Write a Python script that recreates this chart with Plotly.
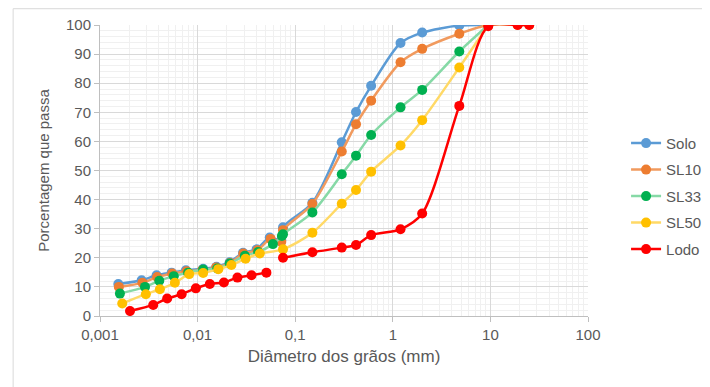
import plotly.graph_objects as go

sieves = [0.075, 0.15, 0.3, 0.42, 0.6, 1.2, 2.0, 4.8, 9.5]

solo_x = [0.00154, 0.00267, 0.0038, 0.00542, 0.00759, 0.0114, 0.0156, 0.0213, 0.0292, 0.0402, 0.0548, 0.072] + sieves
solo_y = [11.0, 12.3, 14.0, 14.9, 15.7, 16.2, 16.9, 18.5, 21.7, 22.9, 27.0, 26.0,
          30.5, 38.9, 59.7, 70.1, 79.1, 93.8, 97.4, 99.8, 100]

sl10_x = [0.00156, 0.00272, 0.00385, 0.0055, 0.0077, 0.0111, 0.0155, 0.0215, 0.0294, 0.041, 0.056, 0.072] + sieves + [19, 25]
sl10_y = [10.0, 11.4, 13.4, 14.6, 15.4, 15.7, 16.7, 18.2, 21.5, 22.6, 26.5, 25.5,
          29.5, 38.5, 56.5, 65.9, 74.0, 87.2, 91.8, 97.0, 100, 100, 100]

sl33_x = [0.0016, 0.00289, 0.00405, 0.0057, 0.008, 0.0114, 0.0159, 0.0213, 0.0305, 0.0417, 0.0591, 0.073] + sieves
sl33_y = [7.7, 10.0, 12.1, 13.7, 14.9, 16.0, 16.3, 18.0, 20.7, 22.0, 24.7, 27.5,
          28.1, 35.6, 48.7, 55.1, 62.2, 71.7, 77.7, 90.9, 100]

sl50_x = [0.00169, 0.00295, 0.00411, 0.00585, 0.0082, 0.0114, 0.0163, 0.0222, 0.031, 0.0434] + sieves
sl50_y = [4.3, 7.5, 9.2, 11.4, 14.4, 14.8, 16.1, 17.5, 19.7, 21.5,
          22.9, 28.6, 38.6, 43.3, 49.6, 58.6, 67.3, 85.4, 100]

lodo_x = [0.00203, 0.00351, 0.00488, 0.00686, 0.0096, 0.01334, 0.0186, 0.0256, 0.0357, 0.0507, None] + sieves + [19, 25]
lodo_y = [1.7, 3.8, 6.0, 7.5, 9.5, 11.0, 11.5, 13.2, 14.0, 14.9, None,
          20.0, 21.9, 23.5, 24.4, 27.8, 29.8, 35.2, 72.2, 99.6, 100, 100]

x_tickvals = [0.001, 0.01, 0.1, 1, 10, 100]
x_ticktext = ["0,001", "0,01", "0,1", "1", "10", "100"]

series = [
    ("Solo", solo_x, solo_y, "#5B9BD5", "#5B9BD5"),
    ("SL10", sl10_x, sl10_y, "#F19A5E", "#ED7D31"),
    ("SL33", sl33_x, sl33_y, "#86D9A6", "#00B050"),
    ("SL50", sl50_x, sl50_y, "#FFD966", "#FFC000"),
    ("Lodo", lodo_x, lodo_y, "#FF0000", "#FF0000"),
]

fig = go.Figure()
for name, xs, ys, lc, mc in series:
    fig.add_trace(go.Scatter(
        x=xs, y=ys, name=name, mode="lines+markers", legendgroup=name,
        line=dict(color=lc, width=2.5, shape="spline", smoothing=0.8),
        marker=dict(color=mc, size=10),
        connectgaps=False,
    ))

minor_x = [m * 10 ** e for e in range(-3, 2) for m in range(2, 10)]
minor_y = [v for v in range(0, 101, 2) if v % 10 != 0]

fig.update_layout(
    width=710, height=387,
    margin=dict(l=92, r=130, t=17, b=79, autoexpand=False),
    paper_bgcolor="white", plot_bgcolor="white",
    font=dict(family="Liberation Sans, Arial, sans-serif", size=15, color="#595959"),
    showlegend=True,
    legend=dict(x=1.078, y=0.65, xanchor="left", yanchor="top",
                font=dict(size=15, color="#595959"), tracegroupgap=4,
                itemwidth=30, bgcolor="rgba(0,0,0,0)"),
    xaxis=dict(
        type="log", range=[-3, 2], automargin=False,
        tickvals=x_tickvals, ticktext=x_ticktext,
        showgrid=True, gridcolor="#D9D9D9", gridwidth=1,
        minor=dict(tickvals=minor_x, showgrid=True, gridcolor="#F0F0F0", ticks=""),
        showline=True, linecolor="#BFBFBF", linewidth=1,
        ticks="outside", ticklen=5, tickcolor="#BFBFBF",
        zeroline=False,
        title=dict(text="Diâmetro dos grãos (mm)", font=dict(size=17, color="#595959"), standoff=8),
    ),
    yaxis=dict(
        range=[0, 100], dtick=10, automargin=False,
        showgrid=True, gridcolor="#D9D9D9", gridwidth=1,
        minor=dict(tickvals=minor_y, showgrid=True, gridcolor="#F0F0F0", ticks=""),
        showline=True, linecolor="#BFBFBF", linewidth=1,
        ticks="outside", ticklen=5, tickcolor="#BFBFBF",
        zeroline=False,
        title=dict(text="Porcentagem que passa", font=dict(size=15, color="#595959"), standoff=12),
    ),
    shapes=[dict(type="rect", xref="paper", yref="paper",
                 x0=-0.178, x1=1.26, y0=-0.26, y1=1.056,
                 line=dict(color="#D9D9D9", width=1), fillcolor="rgba(0,0,0,0)", layer="below")],
)

fig.write_html("out.html")
